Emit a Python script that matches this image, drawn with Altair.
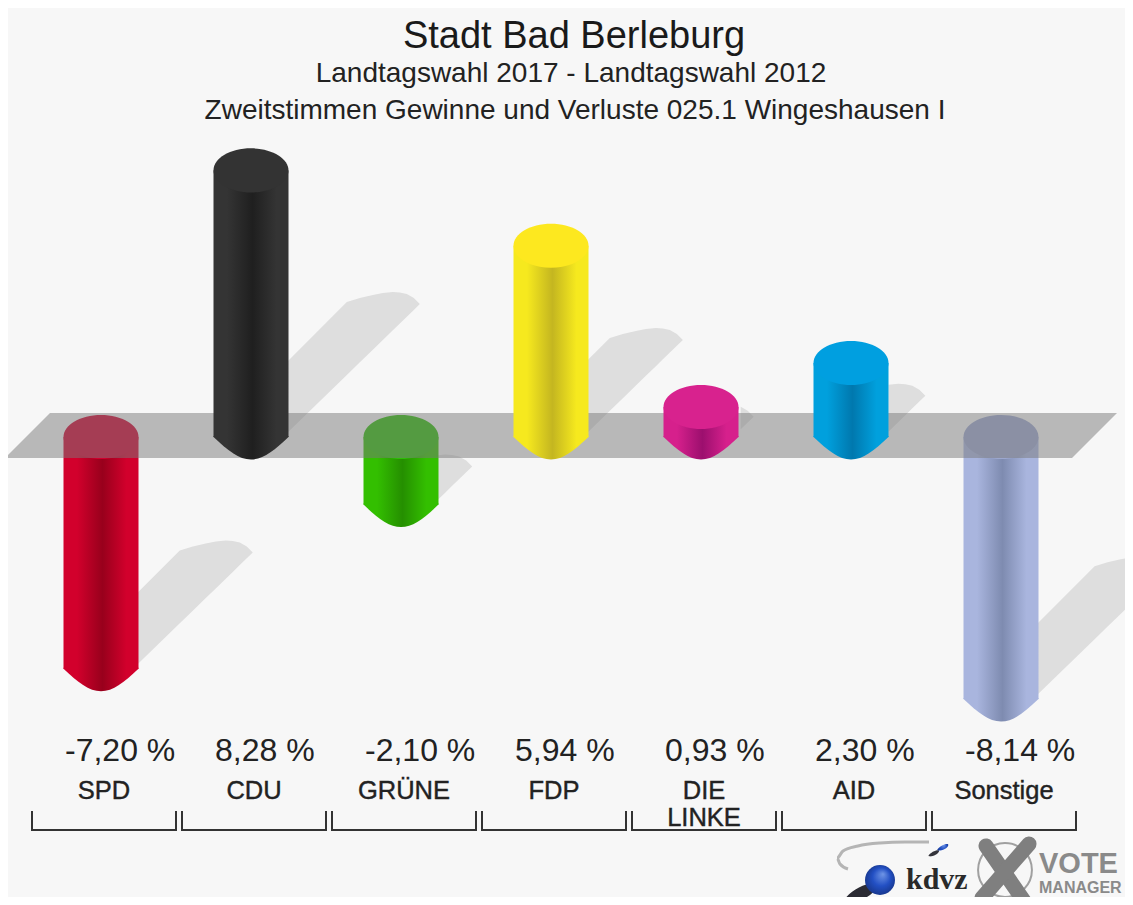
import altair as alt
import pandas as pd

# ---- chart values
parties = ["SPD", "CDU", "GRÜNE", "FDP", "DIE LINKE", "AID", "Sonstige"]
values = [-7.20, 8.28, -2.10, 5.94, 0.93, 2.30, -8.14]
value_labels = ["-7,20 %", "8,28 %", "-2,10 %", "5,94 %", "0,93 %", "2,30 %", "-8,14 %"]
party_lines = [["SPD"], ["CDU"], ["GRÜNE"], ["FDP"], ["DIE", "LINKE"], ["AID"], ["Sonstige"]]
edge_colors = ["#d2002c", "#343434", "#33bf00", "#f6e91e", "#d6208c", "#00a0dd", "#a9b5de"]
mid_colors = ["#98001c", "#1f1f1f", "#258f00", "#c4b620", "#9c0f6e", "#0078ae", "#7e8bb0"]
cap_colors = ["#d0002e", "#333333", "#2fbd08", "#fde81f", "#d8228e", "#009fe0", "#9ca7ce"]
titles = ["Stadt Bad Berleburg", "Landtagswahl 2017 - Landtagswahl 2012",
          "Zweitstimmen Gewinne und Verluste 025.1 Wingeshausen I"]

# ---- layout of the page
W, H = 1117, 889
SLOT_PX = 150.0
UNIT_PX = 32.2
X0_PAGE = 101.0
Y0_PAGE = 437.0
BG = "#f7f7f7"

xdom = [(8 - X0_PAGE) / SLOT_PX, (8 + W - X0_PAGE) / SLOT_PX]
ydom = [(Y0_PAGE - 8 - H) / UNIT_PX, (Y0_PAGE - 8) / UNIT_PX]
xs = alt.Scale(domain=xdom, range=[0, W], nice=False, zero=False)
ys = alt.Scale(domain=ydom, range=[H, 0], nice=False, zero=False)


def fx(px):
    return (px - X0_PAGE) / SLOT_PX


def fy(px):
    return (Y0_PAGE - px) / UNIT_PX


X = alt.X("x:Q", scale=xs, axis=None)
Y = alt.Y("y:Q", scale=ys, axis=None, stack=None)
HALF = 37.5 / SLOT_PX

TOP_SHAPE = "M-1,0 A1,0.587 0 1 1 1,0 A1,0.587 0 1 1 -1,0 Z"
BOT_SHAPE = "M-1,-0.03 L-1,0 C-0.62,0.36 -0.32,0.6 0,0.6 C0.32,0.6 0.62,0.36 1,0 L1,-0.03 Z"
CAP_SIZE = 75.0 ** 2


def grad(edge, mid):
    return {"gradient": "linear", "x1": 0, "x2": 1, "y1": 0, "y2": 0,
            "stops": [{"offset": 0, "color": edge}, {"offset": 0.18, "color": edge},
                      {"offset": 0.52, "color": mid}, {"offset": 0.84, "color": edge},
                      {"offset": 1, "color": edge}]}


def cylinder(i):
    v = values[i]
    g = grad(edge_colors[i], mid_colors[i])
    base_top, base_end = (0.0, v) if v < 0 else (v, 0.0)
    body = alt.Chart(pd.DataFrame({"x": [i - HALF], "x2": [i + HALF], "y": [base_top], "y2": [base_end]})).mark_rect(
        fill=g, strokeWidth=0).encode(X, alt.X2("x2:Q"), Y, alt.Y2("y2:Q"))
    bottom = alt.Chart(pd.DataFrame({"x": [i], "y": [base_end]})).mark_point(
        shape=BOT_SHAPE, size=CAP_SIZE, filled=True, fill=g, opacity=1, strokeWidth=0).encode(X, Y)
    top = alt.Chart(pd.DataFrame({"x": [i], "y": [base_top]})).mark_point(
        shape=TOP_SHAPE, size=CAP_SIZE, filled=True, fill=cap_colors[i], opacity=1, strokeWidth=0).encode(X, Y)
    return [body, bottom, top]


# shadow outline measured from its tip, in pixels
upper_dx = [0, -6, -13, -20, -27, -37, -47, -60, -73]
upper_dy = [0, -6, -10, -11.5, -12, -11, -9, -6, -2]


def shadow_rows():
    rows = []
    for i, v in enumerate(values):
        L = 15.8 * abs(v)
        cx = X0_PAGE + SLOT_PX * i
        end_y = Y0_PAGE + UNIT_PX * abs(v) if v < 0 else Y0_PAGE
        bx, by = cx + 38, end_y - 6
        tx, ty = bx + L, by - 0.97 * L
        xs_up = [tx + d for d in upper_dx]
        ys_up = [ty + d for d in upper_dy]
        far = bx - 4
        if far < xs_up[-1]:
            xs_up.append(far)
            ys_up.append(ys_up[-1] + (xs_up[-2] - far))
        for px, uy in zip(xs_up, ys_up):
            if px < far:
                continue
            low = by - 0.97 * (px - bx)
            rows.append({"p": parties[i], "x": fx(px), "y": fy(uy), "y2": fy(low)})
    return pd.DataFrame(rows).sort_values(["p", "x"])


shadow = alt.Chart(shadow_rows()).mark_area(color="#dedede", opacity=1, clip=True, orient="vertical").encode(
    X, Y, alt.Y2("y2:Q"), detail="p:N")

plat_x = [5, 50, 1072, 1117]
plat_top = [458, 413, 413, 413]
plat_bot = [458, 458, 458, 413]
platform = alt.Chart(pd.DataFrame({"x": [fx(p) for p in plat_x], "y": [fy(p) for p in plat_top],
                                   "y2": [fy(p) for p in plat_bot]})).mark_area(
    color="#797979", opacity=0.5, orient="vertical", clip=True).encode(X, Y, alt.Y2("y2:Q"))


def text_layer(rows, **kw):
    return alt.Chart(pd.DataFrame(rows)).mark_text(baseline="alphabetic", font="Liberation Sans", **kw).encode(
        X, Y, text="t:N")


title_l = text_layer([{"x": fx(574), "y": fy(48), "t": titles[0]}], fontSize=38, align="center", color="#1a1a1a")
sub_l = text_layer([{"x": fx(571), "y": fy(82), "t": titles[1]}], fontSize=28, align="center", color="#222222")
sub2_l = text_layer([{"x": fx(575), "y": fy(119), "t": titles[2]}], fontSize=28, align="center", color="#222222")

val_l = text_layer([{"x": i + fx(X0_PAGE - 36), "y": fy(761), "t": t} for i, t in enumerate(value_labels)],
                   fontSize=32, align="left", color="#222222")
name_rows = []
for i, lines in enumerate(party_lines):
    for j, t in enumerate(lines):
        name_rows.append({"x": i + fx(X0_PAGE + 3), "y": fy(799 + 27 * j), "t": t})
name_l = text_layer(name_rows, fontSize=25.5, align="center", color="#222222", stroke="#222222", strokeWidth=0.4)

# brackets
br_rows = []
for i in range(len(parties)):
    l, r = i + fx(X0_PAGE - 69), i + fx(X0_PAGE + 75)
    for k, (a, b) in enumerate([(l, 811), (l, 830), (r, 830), (r, 811)]):
        br_rows.append({"p": parties[i], "k": k, "x": a, "y": fy(b)})
brackets = alt.Chart(pd.DataFrame(br_rows)).mark_line(color="#333333", strokeWidth=2).encode(
    X, Y, detail="p:N", order="k:Q")

# logo
arc_x = [929, 905, 880, 858, 843, 837, 840, 848]
arc_y = [842, 842, 843, 846, 851, 858, 864, 869]
arc = alt.Chart(pd.DataFrame({"x": [fx(p) for p in arc_x], "y": [fy(p) for p in arc_y], "k": range(len(arc_x))})).mark_line(
    color="#b5b5b5", strokeWidth=3, interpolate="monotone", clip=False).encode(X, Y, order="k:Q")


def blob(px, py, size, color, shape="circle"):
    return alt.Chart(pd.DataFrame({"x": [fx(px)], "y": [fy(py)]})).mark_point(
        shape=shape, size=size, filled=True, fill=color, opacity=1, strokeWidth=0).encode(X, Y)


ball_fill = {"gradient": "radial", "x1": 0.6, "y1": 0.3, "r1": 0, "x2": 0.5, "y2": 0.5, "r2": 0.6,
             "stops": [{"offset": 0, "color": "#6f95e6"}, {"offset": 0.5, "color": "#2350c4"},
                       {"offset": 1, "color": "#14307e"}]}
TILT = "M-1,0.45 C-0.6,-0.1 0.3,-0.6 0.9,-0.5 C1.1,-0.1 0.2,0.55 -0.5,0.6 C-0.8,0.65 -1,0.6 -1,0.45 Z"
blobs = [
    blob(861, 892, 1100, "#2b2b33", TILT),
    blob(880, 880, 900, ball_fill),
    blob(934, 853, 120, "#33333a", TILT),
    blob(943, 847, 130, ball_fill, TILT),
]
kdvz = alt.Chart(pd.DataFrame({"x": [fx(906)], "y": [fy(889)], "t": ["kdvz"]})).mark_text(
    baseline="alphabetic", align="left", font="Liberation Serif", fontWeight="bold", fontSize=30, color="#2a2a2a"
).encode(X, Y, text="t:N")
ring2 = alt.Chart(pd.DataFrame({"x": [fx(1005)], "y": [fy(870)]})).mark_point(
    shape="circle", size=2900, filled=False, stroke="#a0a0a0", strokeWidth=2, opacity=1).encode(X, Y)
x_rows = [{"p": "a", "k": 0, "x": fx(986), "y": fy(846)}, {"p": "a", "k": 1, "x": fx(1024), "y": fy(901)},
          {"p": "b", "k": 0, "x": fx(1029), "y": fy(844)}, {"p": "b", "k": 1, "x": fx(982), "y": fy(898)}]
xmark = alt.Chart(pd.DataFrame(x_rows)).mark_line(color="#7f7f7f", strokeWidth=15, strokeCap="round").encode(
    X, Y, detail="p:N", order="k:Q")
vote = text_layer([{"x": fx(1039), "y": fy(873), "t": "VOTE"}], fontSize=29, fontWeight="bold", align="left", color="#8a8a8a")
mgr = text_layer([{"x": fx(1039), "y": fy(893), "t": "MANAGER"}], fontSize=16, fontWeight="bold", align="left", color="#8a8a8a")

layers = [shadow]
for i, v in enumerate(values):
    if v < 0:
        layers += cylinder(i)
layers.append(platform)
for i, v in enumerate(values):
    if v >= 0:
        layers += cylinder(i)
layers += [title_l, sub_l, sub2_l, val_l, name_l, brackets, arc] + blobs + [kdvz, ring2, xmark, vote, mgr]

chart = alt.layer(*layers).properties(
    width=W, height=H, background=BG, padding=0,
    autosize=alt.AutoSizeParams(type="none", contains="content"),
).configure_view(stroke=None)

chart.save("out.html", embed_options={"renderer": "svg", "actions": False})
